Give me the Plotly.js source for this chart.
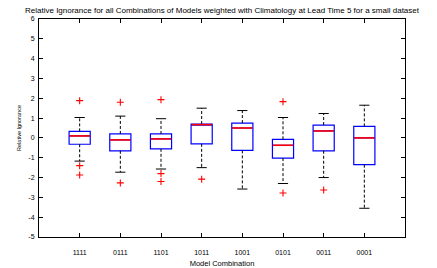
<!DOCTYPE html>
<html><head><meta charset="utf-8">
<script src="https://cdn.plot.ly/plotly-3.0.1.min.js"></script>
<style>html,body{margin:0;padding:0;background:#fff}</style>
</head><body><div id="plot" style="width:437px;height:268px"></div>
<script>
const categories = ['1111','0111','1101','1011','1001','0101','0011','0001'];
const upperWhisker = [1.03, 1.10, 0.97, 1.50, 1.38, 1.03, 1.23, 1.65];
const q3 = [0.33, 0.20, 0.20, 0.70, 0.75, -0.07, 0.65, 0.58];
const medians = [0.10, -0.10, -0.05, 0.67, 0.50, -0.37, 0.35, 0.00];
const q1 = [-0.32, -0.65, -0.55, -0.30, -0.63, -1.02, -0.65, -1.35];
const lowerWhisker = [-1.17, -1.73, -1.57, -1.50, -2.58, -2.30, -2.00, -3.55];
const outliers = [[1.88, -1.40, -1.87], [1.80, -2.27], [1.93, -1.80, -2.20], [-2.08], [], [1.83, -2.78], [-2.63], []];
const yTicks = [-5,-4,-3,-2,-1,0,1,2,3,4,5,6];

const pos = categories.map((c,i)=>i+1);
const halfBox = 0.25, halfCap = 0.125;
const traces = [];
traces.push({type:'box', x:pos, q1:q1, median:medians, q3:q3, lowerfence:q1, upperfence:q3,
  width:0.52, fillcolor:'rgba(255,255,255,0)', line:{color:'#0000ff', width:1.2}, whiskerwidth:0,
  boxpoints:false, hoverinfo:'skip', showlegend:false});
// whiskers
const wx=[], wy=[];
pos.forEach((p,i)=>{wx.push(p,p,null,p,p,null); wy.push(q3[i],upperWhisker[i],null,q1[i],lowerWhisker[i],null);});
traces.push({type:'scatter', mode:'lines', x:wx, y:wy, line:{color:'#000', width:1, dash:'3px,2px'}, showlegend:false, hoverinfo:'skip'});
// caps
const cx=[], cy=[];
pos.forEach((p,i)=>{cx.push(p-halfCap,p+halfCap,null,p-halfCap,p+halfCap,null); cy.push(upperWhisker[i],upperWhisker[i],null,lowerWhisker[i],lowerWhisker[i],null);});
traces.push({type:'scatter', mode:'lines', x:cx, y:cy, line:{color:'#000', width:1}, showlegend:false, hoverinfo:'skip'});
// medians
const mx=[], my=[];
pos.forEach((p,i)=>{mx.push(p-halfBox,p+halfBox,null); my.push(medians[i],medians[i],null);});
traces.push({type:'scatter', mode:'lines', x:mx, y:my, line:{color:'#ff0000', width:1.6}, showlegend:false, hoverinfo:'skip'});
// outliers
const ox=[], oy=[];
outliers.forEach((arr,i)=>arr.forEach(v=>{ox.push(pos[i]); oy.push(v);}));
traces.push({type:'scatter', mode:'markers', x:ox, y:oy, marker:{symbol:'cross-thin', size:5, line:{color:'#ff0000', width:1.1}}, showlegend:false, hoverinfo:'skip'});

const font = {family:'Liberation Sans, Arial, sans-serif', color:'#000'};
const layout = {
  width:437, height:268, margin:{l:39, r:32, t:19, b:31},
  paper_bgcolor:'#fff', plot_bgcolor:'#fff', showlegend:false,
  title:{text:'Relative Ignorance for all Combinations of Models weighted with Climatology at Lead Time 5 for a small dataset',
    font:Object.assign({size:8},font), x:0.508, xanchor:'center', y:0.962, yanchor:'middle'},
  xaxis:{range:[0,9], tickvals:pos, ticktext:categories, ticks:'inside', ticklen:4, tickcolor:'#000',
    showline:true, mirror:'ticks', linecolor:'#000', linewidth:1, showgrid:false, zeroline:false,
    tickfont:Object.assign({size:7},font), ticklabelstandoff:9,
    title:{text:'Model Combination', font:Object.assign({size:7.5},font), standoff:9}},
  yaxis:{range:[-5,6], tickvals:yTicks, ticktext:yTicks.map(String), ticks:'inside', ticklen:4, tickcolor:'#000',
    showline:true, mirror:'ticks', linecolor:'#000', linewidth:1, showgrid:false, zeroline:false,
    tickfont:Object.assign({size:7},font), ticklabelstandoff:2,
    title:{text:'Relative Ignorance', font:Object.assign({size:5.5},font), standoff:6}}
};
Plotly.newPlot('plot', traces, layout, {staticPlot:true, displayModeBar:false});
</script></body></html>
